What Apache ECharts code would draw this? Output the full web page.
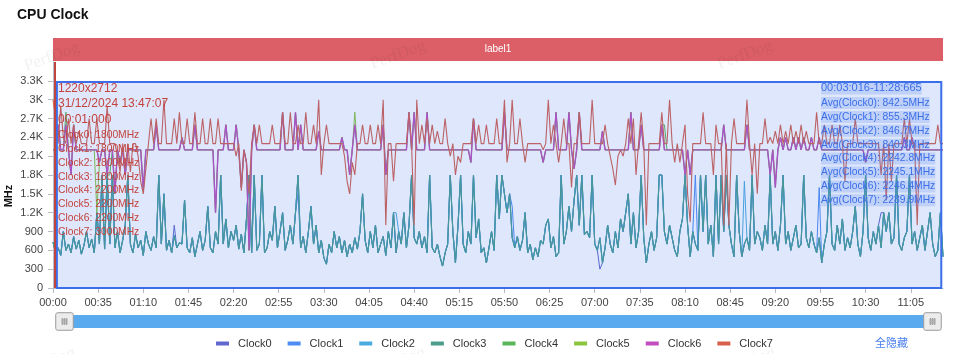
<!DOCTYPE html>
<html><head><meta charset="utf-8">
<script src="https://cdn.jsdelivr.net/npm/echarts@6/dist/echarts.min.js"></script>
<style>html,body{margin:0;padding:0;background:#fff}#c{width:960px;height:354px}</style>
</head><body><div id="c"></div>
<script>
// ---------- data ----------
const STEP_SEC = 2;           // one sample every 2 s
const X_MAX_SEC = 690;        // end of capture (11:30)
const X_TICK_SEC = 35;
const Y_TICK = 300;
const Y_MAX = 3600;

const seriesNames = ['Clock0','Clock1','Clock2','Clock3','Clock4','Clock5','Clock6','Clock7'];
const seriesColors = ['#6266cf','#4d8cf2','#4aabe0','#4a9e8a','#58b55a','#8cc43e','#c04ebf','#d6604c'];

// little cluster (Clock0-3), MHz
const littleCluster = [
 730,560,640,520,900,600,700,560,820,620,
 760,540,680,900,640,780,560,1200,700,1800,
 620,1800,700,1800,640,900,560,760,1000,1800,
 700,560,860,640,760,520,900,700,600,820,
 640,1800,700,1500,600,760,560,840,640,720,
 700,1400,640,560,800,500,700,900,600,760,
 1300,640,560,900,700,1800,700,1100,640,900,
 760,1000,620,860,560,1100,1800,560,1800,600,
 700,1800,560,640,900,760,1300,640,900,1200,
 600,760,1000,700,1200,1800,640,820,560,900,
 1300,700,1000,560,760,480,380,700,560,900,
 640,820,560,760,500,700,560,800,620,900,
 1500,760,560,900,640,1000,560,700,820,520,
 900,640,1200,560,900,700,1200,640,1000,1800,
 800,700,900,640,820,560,1800,640,560,700,
 500,350,560,700,1800,900,400,1000,1800,700,
 560,900,700,1800,800,1100,560,640,400,640,
 900,600,1800,1100,1800,1500,1200,1500,800,640,
 820,600,760,1200,560,700,450,640,500,760,
 700,1000,1100,640,820,500,560,1800,700,900,
 1300,900,1400,1800,1000,1800,850,900,800,1800,
 700,600,800,400,640,1000,700,560,900,640,
 1100,900,1200,1500,700,1200,640,900,1800,800,
 400,700,900,600,800,1800,1800,900,700,1000,
 800,600,500,900,1100,1800,1000,500,900,700,
 600,1800,900,1800,700,1000,500,1800,700,1800,
 900,1800,1000,700,500,1800,900,500,700,800,
 600,1800,700,900,800,600,1000,700,1800,700,
 900,600,1000,1800,700,900,600,800,1000,640,
 700,1800,800,640,900,700,560,800,400,700,
 900,1800,700,600,1000,700,1100,600,800,640,
 900,1300,700,500,900,1800,800,600,900,700,
 1000,640,1200,900,1200,700,800,1800,700,600,
 800,900,1800,700,900,600,800,1000,600,900,
 1200,700,500,600,1200,500
];
// points where a little core differs from Clock3: [sampleIndex, MHz]
const clock0Diff = [[47,1000],[212,300],[321,1200]];
const clock1Diff = [[95,1500],[178,1300],[249,1800],[297,1600]];
const clock2Diff = [[133,1200],[268,1700]];

// middle cluster (Clock4-6), MHz
const midCluster = [
 2200,2200,2600,2200,2200,2600,2200,1800,2600,2200,
 2200,2200,2200,2200,2200,2200,2200,2200,2000,2200,
 2200,1800,2200,2200,1500,2200,2000,2200,1800,2200,
 2200,2200,2200,2200,2200,1560,2200,2200,2200,2200,
 2600,2200,2200,2200,2200,2200,2200,2200,2200,2200,
 2400,2200,2200,2200,2200,2600,2200,2200,2200,2200,
 2200,2200,2200,1200,2200,2200,2200,2600,2200,2200,
 2200,2600,2200,1600,2200,2000,600,2200,2600,2200,
 2200,2200,2200,2200,2200,2200,2200,2200,2200,2800,
 2200,2200,2200,2200,2800,2200,2600,2200,2200,2200,
 2200,2200,2200,2500,2200,2200,2200,2200,2200,2200,
 2200,2200,2400,2200,2200,1800,2200,2600,2200,2200,
 2200,2200,2200,2200,2200,2200,2200,2200,2600,1800,
 2200,2200,2200,2200,2200,2200,2200,2200,2800,2200,
 2800,2200,2200,2200,2200,2800,2200,2200,2200,2200,
 2200,2200,2200,2200,2200,2200,2200,2200,2200,2200,
 2200,2200,2000,2700,2200,2200,2200,2200,2200,2200,
 2200,2200,2200,2200,2200,2800,2200,2200,2200,2200,
 2200,2200,2200,2200,2200,2200,2200,2200,2200,2200,
 2000,2200,2200,2200,2200,2800,2200,2200,2200,2200,
 2800,2200,1900,2200,2800,2200,2200,2200,2200,2200,
 2200,2200,2200,2500,2200,2200,2200,2200,2200,2200,
 2200,2200,2200,2200,2800,2200,2200,2200,2600,2200,
 2200,2200,2200,2200,2200,2200,2600,2200,2200,2200,
 2200,2200,2200,2200,2200,1800,2200,1800,2200,2200,
 2200,2200,2200,2200,2200,2200,2200,2200,2200,2200,
 2600,2200,2200,2200,2200,2200,2200,2200,2200,2600,
 2200,2200,2200,2200,2200,2200,2200,2200,1800,2200,
 1600,2200,2400,2200,2400,2200,2200,2400,2200,2400,
 2200,2400,2200,2200,2400,2200,2200,2400,2200,2200,
 2200,2200,2200,2200,2200,2200,2200,2200,2200,2200,
 2200,2200,2200,2200,2200,2000,2200,2200,2200,2200,
 2200,2200,2200,2200,2200,2200,2200,2200,2200,2200,
 2400,2200,2200,2400,2200,2200,2200,2200,2200,2200,
 2200,2200,2200,2200,2200,2200
];
const clock4Diff = [[5,2800],[22,1800],[237,2600]];
const clock5Diff = [[17,1200],[117,2800],[280,1700]];

// prime core (Clock7), MHz
const primeCore = [
 3000,2700,2300,2900,2400,2300,2700,2300,2600,2300,
 2500,2300,2300,2300,2700,2300,2300,2700,2300,2300,
 2300,2900,2300,2300,2300,2100,1850,2300,1900,2300,
 1850,2300,2300,2100,1700,1500,1900,2300,2700,2300,
 2700,2300,2300,3000,2300,2300,2300,2700,2300,2800,
 2300,2300,2700,2300,2300,2800,2300,2300,2700,2300,
 2300,2700,2300,2300,2700,2300,2300,2300,2300,2300,
 2300,2100,2300,1550,2200,2000,1500,2300,2600,2300,
 2600,2300,2300,2300,2300,2600,2300,2300,2300,2800,
 2300,2300,2800,2300,2300,2600,2300,2300,2800,2300,
 2300,2600,2300,3000,1800,2300,2600,2300,2300,2300,
 2300,2300,2300,2100,1700,1500,2000,1800,2300,2300,
 2600,2300,2300,2600,2300,2300,2600,2300,3000,1000,
 2300,2300,1700,2300,2300,2300,2300,2300,2800,2300,
 1000,3000,2300,2600,2300,2700,2300,2600,2300,2500,
 2300,2300,2700,2300,2100,2300,1800,2100,2000,2300,
 2300,2300,2300,2700,2300,2600,2300,2300,2600,2300,
 2300,2300,2700,2300,2300,3000,2000,2300,3000,2300,
 2300,2700,2300,2000,2300,2300,2300,2300,2300,2300,
 2200,2300,3000,2300,2600,2300,2000,2300,2700,2300,
 2300,1600,2300,2300,2800,2300,2300,2300,2300,3000,
 2300,2300,2300,2300,2600,2300,2100,1900,1640,2100,
 2200,2100,2300,2700,2300,2700,1800,2300,2800,2300,
 1000,2300,2300,2300,2300,2300,2800,2300,2300,3000,
 2300,2000,2300,2000,2300,2600,1500,1050,2300,2300,
 2300,2300,2800,2300,2300,2300,1800,2600,2300,2300,
 1000,2300,1000,2300,2700,2300,2300,2300,2300,3000,
 2300,1800,2300,1500,2300,2300,2700,2300,2400,2300,
 2500,2300,2600,2300,2500,2300,2600,2300,2500,2300,
 2600,2300,2500,2300,2300,2300,2800,2300,2300,2600,
 2300,2300,2600,2300,2300,2600,2300,1700,2300,2300,
 2300,2700,2300,2300,2300,2300,2300,2300,2300,2300,
 2300,1800,2300,1400,2300,1700,2300,2300,2300,2300,
 2700,2300,2700,2300,2300,1000,2300,2300,2300,2300,
 2300,2300,2300,2600,2300,2300
];

// annotations
const cursorTimeSec = 1;
const infoHeader = ['1220x2712', '31/12/2024 13:47:07', '00:01:000'];
const cursorClocks = [1800, 1800, 1800, 1800, 2200, 2200, 2200, 3000];
const selection = { start: 3.016, end: 688.665, top: 3280, label: '00:03:016-11:28:665' };
const avgClocks = [842.5, 855.3, 846.7, 840.3, 2242.8, 2245.1, 2246.4, 2289.9];
const timelineLabels = [{ name: 'label1', start: 0, end: 690 }];

// ---------- build ----------
function withDiff(base, diff) { const a = base.slice(); diff.forEach(([i, v]) => { a[i] = v; }); return a; }
const clockValues = [
  withDiff(littleCluster, clock0Diff), withDiff(littleCluster, clock1Diff), withDiff(littleCluster, clock2Diff), littleCluster,
  withDiff(midCluster, clock4Diff), withDiff(midCluster, clock5Diff), midCluster, primeCore
];
const lineWidths = [1, 1, 1, 1.2, 1, 1, 1.4, 1.1];
const toPairs = vals => vals.map((v, i) => [i * STEP_SEC, v]);
const pad = n => String(n).padStart(2, '0');
const FONT = '"Liberation Sans", Arial, sans-serif';

const series = seriesNames.map((name, k) => ({
  name, type: 'line', data: toPairs(clockValues[k]), showSymbol: false, symbol: 'none',
  color: seriesColors[k], lineStyle: { width: lineWidths[k], color: seriesColors[k] }, z: 2, animation: false
}));
// selection area (tint above lines) + cursor line
series.push({
  type: 'line', data: [], xAxisIndex: 0, yAxisIndex: 0, silent: true,
  markArea: {
    silent: true, z: 3,
    itemStyle: { color: 'rgba(58,110,232,0.17)', borderColor: '#3b6ee8', borderWidth: 2 },
    data: [[{ xAxis: selection.start, yAxis: 0 }, { xAxis: selection.end, yAxis: selection.top }]]
  },
  markLine: {
    silent: true, symbol: 'none', label: { show: false },
    lineStyle: { color: '#c0453f', width: 2, type: 'solid' },
    data: [{ xAxis: cursorTimeSec }]
  }
});
// timeline label bar
series.push({
  type: 'line', data: [], xAxisIndex: 1, yAxisIndex: 1, silent: true,
  markArea: {
    silent: true,
    itemStyle: { color: '#dc5f68' },
    label: { show: true, position: 'inside', color: '#fff', fontSize: 10, fontFamily: FONT },
    data: timelineLabels.map(l => [{ name: l.name, xAxis: l.start }, { xAxis: l.end }])
  }
});

const graphic = [];
const txt = (text, x, y, opt) => graphic.push({
  type: 'text', x, y, z: 100, silent: true, rotation: opt.rotation || 0,
  style: Object.assign({ text, align: 'left', verticalAlign: 'middle', fontFamily: FONT }, opt.style)
});
// watermarks
[[52, 57], [398, 55], [745, 55], [48, 362], [398, 362], [748, 362]].forEach(([x, y]) =>
  txt('PerfDog', x, y, { rotation: 0.35, style: { align: 'center', fill: 'rgba(0,0,0,0.06)', fontSize: 17, fontFamily: '"Liberation Serif", serif' } }));
// left info
const leftY = [89, 104, 120];
infoHeader.forEach((s, i) => txt(s, 58, leftY[i], { style: { fill: '#c4433d', fontSize: 12 } }));
cursorClocks.forEach((v, i) => txt(`${seriesNames[i]}: ${v}MHz`, 58, 135 + i * 13.9, { style: { fill: '#c4433d', fontSize: 10.3 } }));
// right info
txt(selection.label, 821, 88, { style: { fill: '#3b6ee8', fontSize: 11, backgroundColor: 'rgba(80,130,235,0.22)', padding: [1, 0, 1, 0] } });
avgClocks.forEach((v, i) => txt(`Avg(${seriesNames[i]}): ${v.toFixed(1)}MHz`, 821, 103 + i * 13.9,
  { style: { fill: '#3b6ee8', fontSize: 10.3, backgroundColor: 'rgba(80,130,235,0.22)', padding: [1, 0, 1, 0] } }));
// axis name
txt('MHz', 9, 196, { rotation: Math.PI / 2, style: { align: 'center', fill: '#111', fontSize: 11, fontWeight: 'bold' } });
// hide-all button
txt('全隐藏', 875, 343, { style: { fill: '#4a80f0', fontSize: 11, fontFamily: '"Noto Sans CJK SC", sans-serif' } });

const option = {
  animation: false,
  backgroundColor: '#fff',
  textStyle: { fontFamily: FONT },
  title: { text: 'CPU Clock', left: 12, top: 3, textStyle: { fontSize: 14, fontWeight: 'bold', color: '#111', fontFamily: FONT } },
  grid: [
    { left: 53, right: 17, top: 62, bottom: 66 },
    { left: 53, right: 17, top: 38, height: 23 }
  ],
  xAxis: [
    {
      type: 'value', gridIndex: 0, min: 0, max: X_MAX_SEC, interval: X_TICK_SEC,
      axisLine: { show: true, lineStyle: { color: '#b8bcc8' } },
      axisTick: { show: true, length: 5, lineStyle: { color: '#b8bcc8' } },
      splitLine: { show: false },
      axisLabel: { color: '#444', fontSize: 11, margin: 9, showMaxLabel: false,
        formatter: v => `${pad(Math.floor(v / 60))}:${pad(v % 60)}` }
    },
    { type: 'value', gridIndex: 1, min: 0, max: X_MAX_SEC, show: false }
  ],
  yAxis: [
    {
      type: 'value', gridIndex: 0, min: 0, max: Y_MAX, interval: Y_TICK,
      axisLine: { show: true, lineStyle: { color: '#b8bcc8' } },
      axisTick: { show: true, length: 5, lineStyle: { color: '#b8bcc8' } },
      splitLine: { show: false },
      axisLabel: { color: '#444', fontSize: 11, margin: 10, showMaxLabel: false,
        formatter: v => v >= 1000 ? `${+(v / 1000).toFixed(1)}K` : `${v}` }
    },
    { type: 'value', gridIndex: 1, min: 0, max: 1, show: false }
  ],
  legend: {
    data: seriesNames, left: 211, top: 333, icon: 'rect', itemWidth: 13, itemHeight: 4, itemGap: 16,
    textStyle: { fontSize: 11, color: '#333', padding: [0, 0, 0, 4], fontFamily: FONT }
  },
  dataZoom: [{
    type: 'slider', xAxisIndex: [0], filterMode: 'none', start: 0, end: 100,
    left: 62, right: 28, top: 315, height: 13,
    backgroundColor: '#5aaaf0', fillerColor: '#5aaaf0', borderColor: 'transparent', borderRadius: 0,
    showDetail: false, showDataShadow: false, brushSelect: false, moveHandleSize: 0,
    handleIcon: 'path://M2,0H16A2,2,0,0,1,18,2V16A2,2,0,0,1,16,18H2A2,2,0,0,1,0,16V2A2,2,0,0,1,2,0Z M6.5,6H7.3V12H6.5Z M8.6,6H9.4V12H8.6Z M10.7,6H11.5V12H10.7Z',
    handleSize: '135%',
    handleStyle: { color: '#ececec', borderColor: '#9a9a9a', borderWidth: 1 },
    emphasis: { handleStyle: { color: '#ececec', borderColor: '#9a9a9a' } },
    dataBackground: { lineStyle: { opacity: 0 }, areaStyle: { opacity: 0 } },
    selectedDataBackground: { lineStyle: { opacity: 0 }, areaStyle: { opacity: 0 } }
  }],
  series,
  graphic
};

const chart = echarts.init(document.getElementById('c'), null, { renderer: 'canvas' });
chart.setOption(option);
</script>
</body></html>
